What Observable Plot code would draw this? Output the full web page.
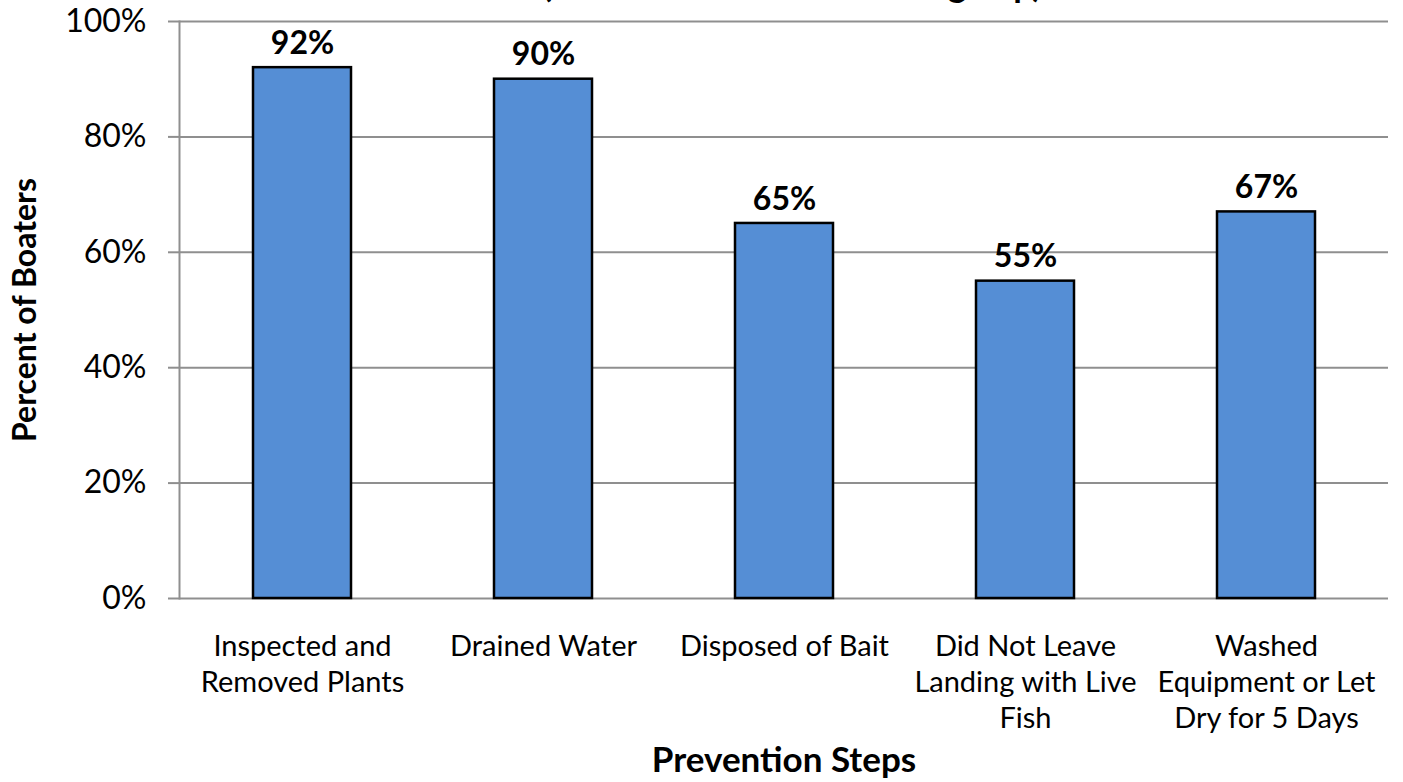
<!DOCTYPE html>
<html>
<head>
<meta charset="utf-8">
<script src="https://cdn.jsdelivr.net/npm/d3@7"></script>
<script src="https://cdn.jsdelivr.net/npm/@observablehq/plot@0.6"></script>
<style>
  html, body { margin: 0; padding: 0; background: #fff; }
  #chart svg { display: block; font-family: Lato, "Open Sans", sans-serif; }
</style>
</head>
<body>
<div id="chart"></div>
<script>
const steps = [
  "Inspected and\nRemoved Plants",
  "Drained Water",
  "Disposed of Bait",
  "Did Not Leave\nLanding with Live\nFish",
  "Washed\nEquipment or Let\nDry for 5 Days"
];
const percents = [92, 90, 65, 55, 67];
const yTicks = [0, 20, 40, 60, 80, 100];
const titleText = "(After Most Recent Boating Trip)";
const yLabel = "Percent of Boaters";
const xLabel = "Prevention Steps";

const data = steps.map((s, i) => ({step: s, pct: percents[i]}));
const grid = "#8f8f8f";

const plot = Plot.plot({
  width: 1403,
  height: 782,
  marginLeft: 179,
  marginRight: 15,
  marginTop: 21,
  marginBottom: 184,
  style: {fontFamily: "Lato, 'Open Sans', sans-serif", color: "#000", background: "#fff"},
  x: {domain: steps, paddingInner: 0.595, paddingOuter: 0.2975, label: null},
  y: {domain: [0, 100], label: null},
  marks: [
    Plot.ruleY(yTicks, {y: d => d, stroke: grid, strokeWidth: 2}),
    Plot.frame({anchor: "left", stroke: grid, strokeWidth: 2}),
    Plot.axisY({ticks: yTicks, tickSize: 11, tickPadding: 22, stroke: grid, strokeWidth: 2,
      tickFormat: d => d + "%", fontSize: 32, label: null}),
    Plot.axisX({tickSize: 0, tickPadding: 32, fontSize: 29, lineHeight: 1.24, label: null}),
    Plot.barY(data, {x: "step", y: "pct", fill: "#558ED5", stroke: "#000", strokeWidth: 2.5}),
    Plot.text(data, {x: "step", y: "pct", text: d => d.pct + "%", dy: -24,
      fontSize: 32, fontWeight: "bold"}),
    Plot.text([yLabel], {frameAnchor: "left", textAnchor: "middle", dx: -154, rotate: -90, fontSize: 32, fontWeight: "bold"}),
    Plot.text([xLabel], {frameAnchor: "bottom", dy: 173, fontSize: 35, fontWeight: "bold"}),
    Plot.text([titleText], {frameAnchor: "top", lineAnchor: "bottom", dy: -25, dx: 8, fontSize: 35, fontWeight: "bold"})
  ]
});
document.getElementById("chart").appendChild(plot);
</script>
</body>
</html>
